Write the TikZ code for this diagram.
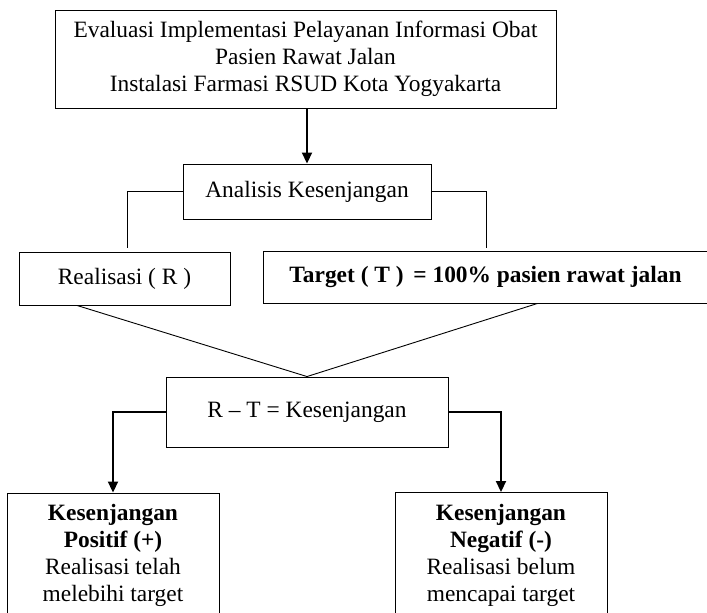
\documentclass[tikz,border=0pt]{standalone}
\usepackage{fontspec}
\setmainfont{Liberation Serif}
\usetikzlibrary{arrows.meta}

\tikzset{
  box/.style={draw, line width=0.9pt, align=center, inner sep=0pt,
    font=\fontsize{23.4}{27}\selectfont},
  flow/.style={-{Triangle[length=11pt,width=10pt]}, line width=1.8pt},
  link/.style={line width=0.9pt}
}

\begin{document}
\begin{tikzpicture}[x=1pt, y=-1pt]

\useasboundingbox (0,0) rectangle (707,613);

% title
\node[box, minimum width=501pt, minimum height=98pt] (judul) at (305.5,59)
  {Evaluasi Implementasi Pelayanan Informasi Obat\\
   Pasien Rawat Jalan\\
   Instalasi Farmasi RSUD Kota Yogyakarta};

% gap analysis
\node[box, minimum width=248pt, minimum height=55pt] (analisis) at (307,191.5)
  {Analisis Kesenjangan};
\draw[flow] (judul.south -| analisis.north) -- (analisis.north);

% realisation and target
\node[box, minimum width=211pt, minimum height=53pt] (real) at (124.5,278.5)
  {Realisasi ( R )};
\node[box, minimum width=445pt, minimum height=52pt] (target) at (485.5,277)
  {\textbf{Target ( T ) \,= 100\% pasien rawat jalan}};

% brackets
\draw[link] (analisis.west) -| ([xshift=2.5pt,yshift=4pt]real.north);
\draw[link] (analisis.east) -| ([xshift=1pt,yshift=3pt]target.north);

% difference
\node[box, minimum width=282pt, minimum height=70pt] (selisih) at (307,412)
  {R -- T = Kesenjangan};
\draw[link] ([xshift=-47.5pt]real.south) -- (selisih.north);
\draw[link] ([xshift=52pt]target.south) -- (selisih.north);

% outcomes
\node[box, minimum width=212pt, minimum height=125pt] (positif) at (113,555.5)
  {\textbf{Kesenjangan}\\ \textbf{Positif (+)}\\ Realisasi telah\\ melebihi target};
\node[box, minimum width=212pt, minimum height=125pt] (negatif) at (501,555)
  {\textbf{Kesenjangan}\\ \textbf{Negatif (-)}\\ Realisasi belum\\ mencapai target};

\draw[flow] (selisih.west) -| (positif.north);
\draw[flow] (selisih.east) -| (negatif.north);

\end{tikzpicture}
\end{document}
